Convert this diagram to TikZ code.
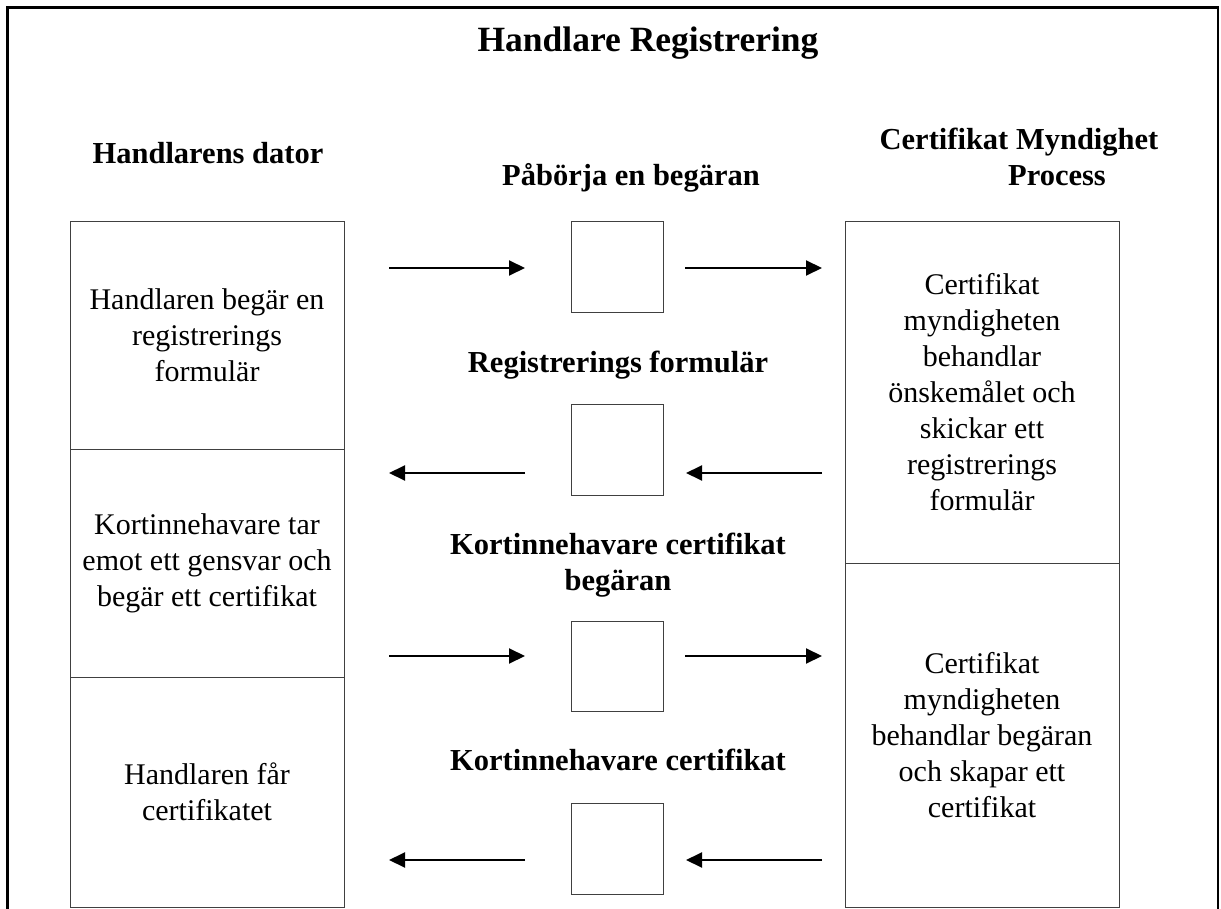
\documentclass[tikz,border=0pt]{standalone}
\usepackage{fontspec}
\setmainfont{Liberation Serif}
\usetikzlibrary{arrows.meta}
\begin{document}
\begin{tikzpicture}[x=1pt,y=-1pt,
  colbox/.style={draw=black!75, line width=1pt, inner sep=0pt, align=center,
    minimum width=274pt, font=\fontsize{30}{36}\selectfont},
  midbox/.style={draw=black!75, line width=1pt, inner sep=0pt,
    minimum width=92pt, minimum height=91pt},
  lbl/.style={anchor=base, inner sep=0pt, font=\fontsize{30.5}{36}\selectfont\bfseries},
  arr/.style={line width=2pt, -{Triangle[length=16pt,width=15pt]}},
  frame/.style={line width=2.6pt}
]
\useasboundingbox (0,0) rectangle (1221,909);
% outer frame (open at the bottom)
\draw[frame] (7.3,909) -- (7.3,7.3) -- (1218,7.3) -- (1218,909);

% title and headings
\node[lbl, font=\fontsize{35.5}{42}\selectfont\bfseries] (title) at (648,52) {Handlare Registrering};
\node[lbl] (hl) at (208,164) {Handlarens dator};
\node[lbl] (hr1) at (1019,150) {Certifikat Myndighet};
\node[lbl] (hr2) at (1057,186) {Process};

% left column
\node[colbox, minimum height=227pt] (lc1) at (207,335.5) {Handlaren begär en\\registrerings\\formulär};
\node[colbox, minimum height=228pt] (lc2) at (207,563) {Kortinnehavare tar\\emot ett gensvar och\\begär ett certifikat};
\node[colbox, minimum height=230pt] (lc3) at (207,792) {Handlaren får\\certifikatet};

% right column
\node[colbox, minimum height=341pt] (rc1) at (982,392.5) {Certifikat\\myndigheten\\behandlar\\önskemålet och\\skickar ett\\registrerings\\formulär};
\node[colbox, minimum height=344pt] (rc2) at (982,735) {Certifikat\\myndigheten\\behandlar begäran\\och skapar ett\\certifikat};

% middle labels
\node[lbl] (l1) at (631,186) {Påbörja en begäran};
\node[lbl] (l2) at (618,372) {Registrerings formulär};
\node[lbl] (l3a) at (618,554) {Kortinnehavare certifikat};
\node[lbl] (l3b) at (618,590) {begäran};
\node[lbl] (l4) at (618,770) {Kortinnehavare certifikat};

% middle boxes
\node[midbox] (m1) at (617,267.5) {};
\node[midbox] (m2) at (617,449.5) {};
\node[midbox, minimum height=90pt] (m3) at (617,666) {};
\node[midbox] (m4) at (617,848.5) {};

% arrow end points
\coordinate (a1s) at (389,268); \coordinate (a1e) at (525,268);
\coordinate (b1s) at (685,268); \coordinate (b1e) at (822,268);
\coordinate (a2s) at (525,473); \coordinate (a2e) at (389,473);
\coordinate (b2s) at (822,473); \coordinate (b2e) at (686,473);
\coordinate (a3s) at (389,656); \coordinate (a3e) at (525,656);
\coordinate (b3s) at (685,656); \coordinate (b3e) at (822,656);
\coordinate (a4s) at (525,860); \coordinate (a4e) at (389,860);
\coordinate (b4s) at (822,860); \coordinate (b4e) at (686,860);

\draw[arr] (a1s) -- (a1e);
\draw[arr] (b1s) -- (b1e);
\draw[arr] (a2s) -- (a2e);
\draw[arr] (b2s) -- (b2e);
\draw[arr] (a3s) -- (a3e);
\draw[arr] (b3s) -- (b3e);
\draw[arr] (a4s) -- (a4e);
\draw[arr] (b4s) -- (b4e);
\end{tikzpicture}
\end{document}
